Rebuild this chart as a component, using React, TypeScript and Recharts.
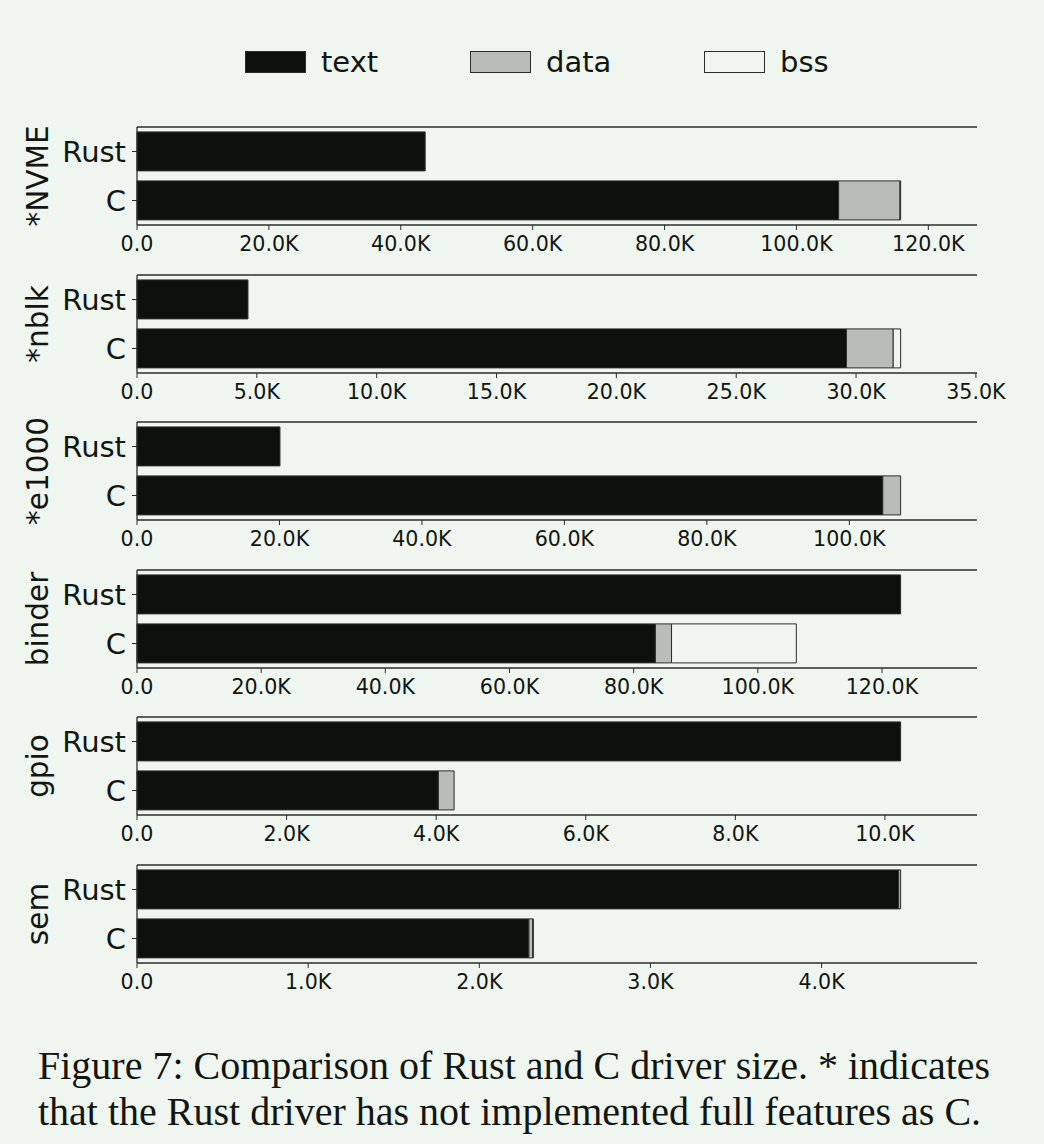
import React from "react";
import { BarChart, Bar, XAxis, YAxis } from "recharts";

const groups = ["*NVME", "*nblk", "*e1000", "binder", "gpio", "sem"];
const impls = ["Rust", "C"];
// sizes in K (thousands of bytes)
const rustText = [43.7, 4.63, 20.07, 123.0, 10.21, 4.45];
const rustData = [0, 0, 0, 0, 0, 0.012];
const rustBss = [0, 0, 0, 0, 0, 0];
const cText = [106.4, 29.6, 104.7, 83.5, 4.03, 2.29];
const cData = [9.3, 1.95, 2.5, 2.6, 0.21, 0.022];
const cBss = [0.1, 0.31, 0, 20.1, 0, 0.004];
const tickLists = [
  [0, 20, 40, 60, 80, 100, 120],
  [0, 5, 10, 15, 20, 25, 30, 35],
  [0, 20, 40, 60, 80, 100],
  [0, 20, 40, 60, 80, 100, 120],
  [0, 2, 4, 6, 8, 10],
  [0, 1, 2, 3, 4],
];
const seriesNames = ["text", "data", "bss"];

const BG = "#eff5ef";
const DARK = "#0b120b";
const GRAY = "#b8beb6";
const INK = "#111611";
const EDGE = "#2a2e2a";
const FONT = "DejaVu Sans";

const PLOT_H = 98;
const M_TOP = 9;
const TOP_AX_H = 1;
const XAX_H = 40;

function fmt(v: number) {
  return v === 0 ? "0.0" : v.toFixed(1) + "K";
}

function Panel({ idx }: { idx: number }) {
  const data = [
    { name: impls[0], text: rustText[idx], data: rustData[idx], bss: rustBss[idx] },
    { name: impls[1], text: cText[idx], data: cData[idx], bss: cBss[idx] },
  ];
  const maxTotal = Math.max(...data.map((d) => d.text + d.data + d.bss));
  const domain = [0, maxTotal * 1.1];
  const top = 127 + idx * 147.6 - M_TOP - TOP_AX_H;
  const label = groups[idx];
  return (
    <div style={{ position: "absolute", left: 0, top }}>
      <BarChart
        width={1044}
        height={M_TOP + TOP_AX_H + PLOT_H + XAX_H}
        data={data}
        layout="vertical"
        margin={{ top: M_TOP, right: 67, bottom: 0, left: 0 }}
        barCategoryGap="10%"
      >
        <XAxis
          type="number"
          domain={domain}
          ticks={tickLists[idx]}
          tickFormatter={fmt}
          height={XAX_H}
          tickSize={5}
          tickMargin={6}
          interval={0}
          stroke={EDGE}
          axisLine={{ stroke: EDGE, strokeWidth: 1.3 }}
          tickLine={{ stroke: EDGE, strokeWidth: 1 }}
          tick={{ fill: INK, fontSize: 20.6, fontFamily: FONT }}
        />
        <XAxis
          xAxisId="top"
          orientation="top"
          type="number"
          domain={domain}
          ticks={tickLists[idx]}
          height={TOP_AX_H}
          tick={false}
          tickLine={false}
          stroke={EDGE}
          axisLine={{ stroke: EDGE, strokeWidth: 1.3 }}
        />
        <YAxis
          type="category"
          dataKey="name"
          width={137}
          tickSize={5}
          tickMargin={6}
          interval={0}
          axisLine={{ stroke: EDGE, strokeWidth: 1.3 }}
          tickLine={{ stroke: EDGE, strokeWidth: 1 }}
          tick={{ fill: INK, fontSize: 29, fontFamily: FONT }}
          label={{
            content: (props: any) => {
              const vb = props.viewBox || { x: 0, y: M_TOP, width: 137, height: PLOT_H };
              const cx = 38;
              const cy = vb.y + vb.height / 2;
              return (
                <text
                  x={cx}
                  y={cy}
                  transform={`rotate(-90, ${cx}, ${cy})`}
                  textAnchor="middle"
                  dominantBaseline="central"
                  fill={INK}
                  fontSize={29.5}
                  fontFamily={FONT}
                >
                  {label}
                </text>
              );
            },
          }}
        />
        <Bar dataKey="text" stackId="s" fill={DARK} stroke={EDGE} strokeWidth={1} isAnimationActive={false} />
        <Bar dataKey="data" stackId="s" fill={GRAY} stroke={EDGE} strokeWidth={1} isAnimationActive={false} />
        <Bar dataKey="bss" stackId="s" fill={BG} stroke={EDGE} strokeWidth={1} isAnimationActive={false} />
      </BarChart>
    </div>
  );
}

const legendFills = [DARK, GRAY, BG];
const legendX = [245, 470, 704];

export default function App() {
  return (
    <div
      style={{
        position: "absolute",
        left: 0,
        top: 0,
        width: 1044,
        height: 1144,
        background: BG,
        overflow: "hidden",
      }}
    >
      {seriesNames.map((s, i) => (
        <div key={s}>
          <div
            style={{
              position: "absolute",
              left: legendX[i],
              top: 51,
              width: 59,
              height: 20,
              background: legendFills[i],
              border: `1px solid ${EDGE}`,
            }}
          />
          <div
            style={{
              position: "absolute",
              left: legendX[i] + 76,
              top: 42,
              fontFamily: FONT,
              fontSize: 29,
              lineHeight: "40px",
              color: INK,
            }}
          >
            {s}
          </div>
        </div>
      ))}
      {groups.map((g, i) => (
        <Panel key={g} idx={i} />
      ))}
      <div
        style={{
          position: "absolute",
          left: 38,
          top: 1043,
          fontFamily: "Liberation Serif",
          fontSize: 40,
          lineHeight: "46px",
          color: INK,
          whiteSpace: "nowrap",
        }}
      >
        Figure 7: Comparison of Rust and C driver size. * indicates
        <br />
        that the Rust driver has not implemented full features as C.
      </div>
    </div>
  );
}
